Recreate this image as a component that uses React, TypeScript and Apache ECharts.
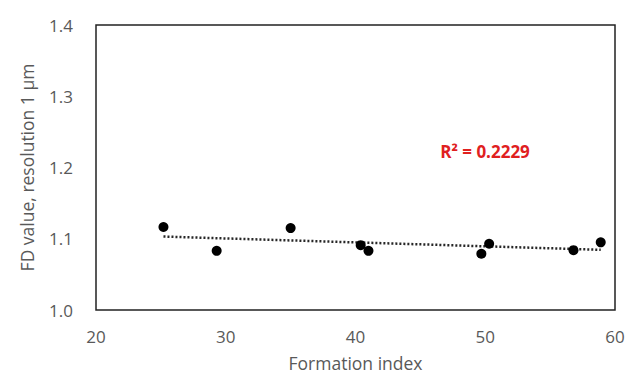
import React, { useEffect, useRef } from "react";
import * as echarts from "echarts";

const formationIndex = [25.2, 29.3, 35.0, 40.4, 41.0, 49.7, 50.3, 56.8, 58.9];
const fdValue = [1.1165, 1.083, 1.115, 1.091, 1.083, 1.079, 1.093, 1.084, 1.095];
const xTicks = [20, 30, 40, 50, 60];
const yTicks = [1.0, 1.1, 1.2, 1.3, 1.4];
const r2Label = "R² = 0.2229";

function linearFit(xs: number[], ys: number[]) {
  const n = xs.length;
  const mx = xs.reduce((a, b) => a + b, 0) / n;
  const my = ys.reduce((a, b) => a + b, 0) / n;
  let sxy = 0;
  let sxx = 0;
  for (let i = 0; i < n; i++) {
    sxy += (xs[i] - mx) * (ys[i] - my);
    sxx += (xs[i] - mx) * (xs[i] - mx);
  }
  const slope = sxy / sxx;
  return { slope, intercept: my - slope * mx };
}

export default function App() {
  const ref = useRef<HTMLDivElement>(null);
  useEffect(() => {
    if (!ref.current) return;
    const chart = echarts.init(ref.current, undefined, { renderer: "svg" });
    const fit = linearFit(formationIndex, fdValue);
    const xMin = Math.min(...formationIndex);
    const xMax = Math.max(...formationIndex);
    const trend = [
      [xMin, fit.intercept + fit.slope * xMin],
      [xMax, fit.intercept + fit.slope * xMax],
    ];
    const font = "'Open Sans', 'Noto Sans', sans-serif";
    chart.setOption({
      animation: false,
      backgroundColor: "#ffffff",
      grid: {
        left: 96,
        right: 19,
        top: 25,
        bottom: 77,
        show: true,
        borderColor: "#222222",
        borderWidth: 1.5,
        backgroundColor: "transparent",
      },
      xAxis: {
        type: "value",
        min: xTicks[0],
        max: xTicks[xTicks.length - 1],
        interval: 10,
        name: "Formation index",
        nameLocation: "middle",
        nameGap: 44,
        nameTextStyle: { color: "#595959", fontSize: 17.5, fontFamily: font },
        axisLine: { show: false },
        axisTick: { show: false },
        splitLine: { show: false },
        axisLabel: { color: "#595959", fontSize: 17, fontFamily: font, margin: 18 },
      },
      yAxis: {
        type: "value",
        min: yTicks[0],
        max: yTicks[yTicks.length - 1],
        interval: 0.1,
        name: "FD value, resolution 1 μm",
        nameLocation: "middle",
        nameGap: 60,
        nameTextStyle: { color: "#595959", fontSize: 17.5, fontFamily: font },
        axisLine: { show: false },
        axisTick: { show: false },
        splitLine: { show: false },
        axisLabel: {
          color: "#595959",
          fontSize: 17,
          fontFamily: font,
          margin: 23,
          formatter: (v: number) => v.toFixed(1),
        },
      },
      series: [
        {
          type: "line",
          data: trend,
          symbol: "none",
          lineStyle: { color: "#262626", width: 2.5, type: [2, 2] },
          z: 1,
        },
        {
          type: "scatter",
          data: formationIndex.map((x, i) => [x, fdValue[i]]),
          symbol: "circle",
          symbolSize: 10,
          itemStyle: { color: "#000000", opacity: 1 },
          z: 2,
        },
      ],
      graphic: [
        {
          type: "text",
          x: 485,
          y: 151,
          style: {
            text: r2Label,
            fill: "#e0201f",
            font: `bold 17px ${font}`,
            textAlign: "center",
            textVerticalAlign: "middle",
          },
        },
      ],
    });
    return () => chart.dispose();
  }, []);
  return (
    <div
      ref={ref}
      style={{ position: "absolute", left: 0, top: 0, width: 634, height: 387 }}
    />
  );
}
